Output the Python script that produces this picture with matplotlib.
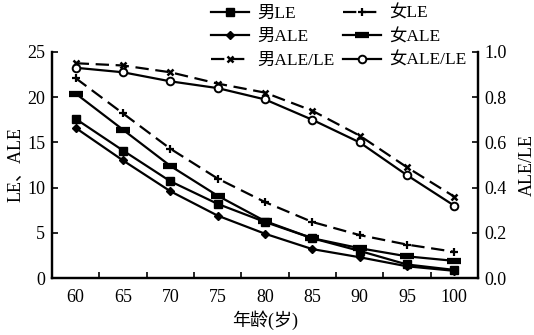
import numpy as np
import matplotlib.pyplot as plt

plt.rcParams['font.family'] = ['Liberation Serif', 'Noto Sans CJK SC']

ages = ['60', '65', '70', '75', '80', '85', '90', '95', '100']

# 预期寿命与活动预期寿命
male_le = [17.6, 14.1, 10.7, 8.2, 6.2, 4.4, 3.0, 1.5, 0.9]
female_le = [22.1, 18.2, 14.3, 11.0, 8.4, 6.2, 4.75, 3.7, 2.9]
male_ale = [16.6, 13.0, 9.6, 6.9, 4.9, 3.2, 2.3, 1.3, 0.8]
female_ale = [20.4, 16.4, 12.4, 9.1, 6.3, 4.4, 3.3, 2.4, 1.9]

# ALE/LE 比值
male_ratio = [0.95, 0.94, 0.91, 0.86, 0.82, 0.74, 0.63, 0.49, 0.36]
female_ratio = [0.93, 0.91, 0.87, 0.84, 0.79, 0.70, 0.60, 0.455, 0.32]

x = np.arange(len(ages))

fig = plt.figure(figsize=(5.34, 3.35), dpi=100)
ax = fig.add_axes([0.0974, 0.170, 0.7976, 0.675])
ax2 = ax.twinx()

fs = 13
lw = 1.6
l1, = ax.plot(x, male_le, color='black', lw=lw, marker='s', ms=6, label='男LE')
l2, = ax.plot(x, female_le, color='black', lw=lw, marker='+', ms=6, mew=1.6,
              dashes=(6, 3), label='女LE')
l3, = ax.plot(x, male_ale, color='black', lw=lw, marker='D', ms=4.5, label='男ALE')
l4, = ax.plot(x, female_ale, color='black', lw=lw, marker='_', ms=10, mew=4.5,
              label='女ALE')
l5, = ax2.plot(x, male_ratio, color='black', lw=lw, marker='x', ms=5, mew=1.8,
               dashes=(6, 3), label='男ALE/LE')
l6, = ax2.plot(x, female_ratio, color='black', lw=lw, marker='o', ms=5.5,
               mfc='white', mew=1.4, label='女ALE/LE')

ax.set_xlim(-0.5, len(ages) - 0.5)
ax.set_ylim(0, 25)
ax2.set_ylim(0, 1.0)
ax.set_yticks([0, 5, 10, 15, 20, 25])
ax2.set_yticks([0.0, 0.2, 0.4, 0.6, 0.8, 1.0])
ax2.set_yticklabels(['0.0', '0.2', '0.4', '0.6', '0.8', '1.0'])

ax.set_xticks(x)
ax.set_xticklabels(ages)
ax.set_xticks(np.arange(0.5, len(ages) - 1, 1.0), minor=True)
ax.tick_params(axis='x', which='major', length=0, pad=8, labelsize=fs)
ax.tick_params(axis='x', which='minor', direction='in', length=4, width=1.2)
ax.tick_params(axis='y', direction='in', length=4, width=1.2, labelsize=fs, pad=5)
ax2.tick_params(axis='y', direction='in', length=4, width=1.2, labelsize=fs, pad=5)

for a in (ax, ax2):
    a.spines['top'].set_visible(False)
    for s in ('left', 'right', 'bottom'):
        a.spines[s].set_linewidth(1.6)

ax.set_xlabel('年龄(岁)', fontsize=fs, labelpad=3)
ax.set_ylabel('LE、ALE', fontsize=fs, labelpad=2)
ax2.set_ylabel('ALE/LE', fontsize=fs, labelpad=8)

fig.legend(handles=[l1, l3, l5, l2, l4, l6], ncol=2, frameon=False,
           loc='upper left', bbox_to_anchor=(0.366, 1.03), fontsize=12.5,
           handlelength=2.2, handletextpad=0.45, columnspacing=0.5,
           labelspacing=0.42)

fig.savefig('out.png', dpi=100)
